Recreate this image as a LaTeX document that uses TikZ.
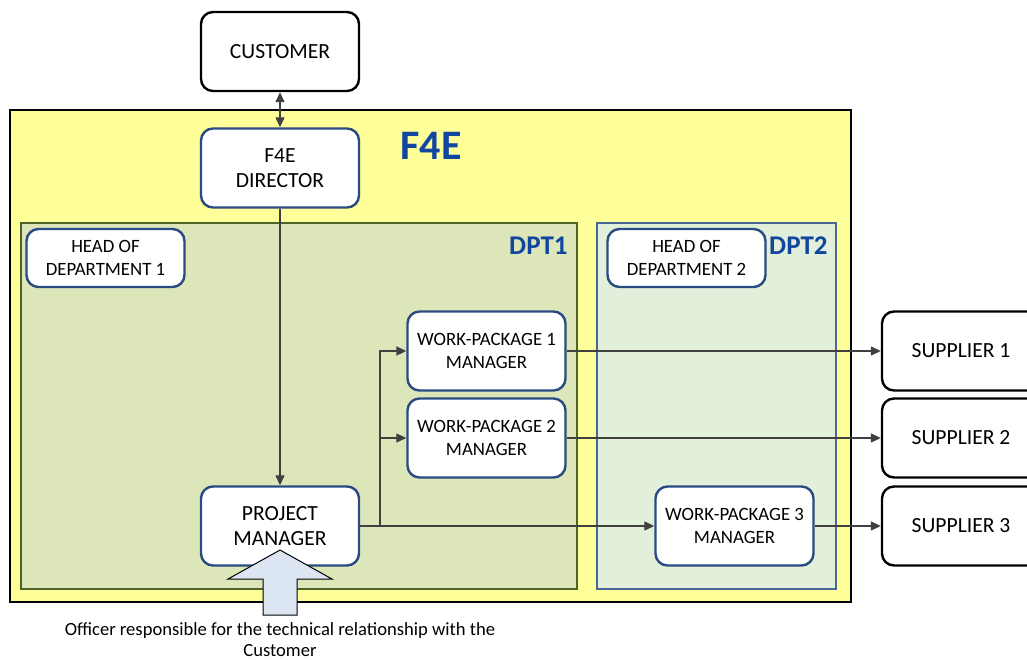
\documentclass[tikz,border=0pt]{standalone}
\usepackage{fontspec}
\setmainfont{Carlito}
\usetikzlibrary{arrows.meta}

\definecolor{fyellow}{RGB}{255,255,153}
\definecolor{dgreen}{RGB}{221,230,185}
\definecolor{dmint}{RGB}{226,239,218}
\definecolor{bblue}{RGB}{41,75,130}
\definecolor{tblue}{RGB}{16,70,160}
\definecolor{olive}{RGB}{79,98,40}
\definecolor{pale}{RGB}{220,230,242}

\tikzset{
  ext/.style = {draw, rounded corners=6pt, line width=1.2pt, fill=white, align=center,
                minimum width=79pt, minimum height=39.5pt, font=\fontsize{10.8}{12.5}\selectfont},
  int/.style = {ext, draw=bblue},
  small/.style = {font=\fontsize{9.4}{11.3}\selectfont},
  link/.style = {-{Triangle[length=5pt,width=4.5pt]}, draw=black!75, line width=0.65pt},
  tag/.style = {text=tblue, inner sep=0pt, font=\bfseries\fontsize{13.5}{14}\selectfont}
}

\begin{document}
\begin{tikzpicture}[x=0.5pt, y=-0.5pt]
\useasboundingbox (0,0) rectangle (1027,659);

% boxes of the organisation
\draw[fill=fyellow, line width=0.75pt] (10,110) rectangle (851,602);
\draw[fill=dgreen, draw=olive, line width=1pt] (21,223) rectangle (577,589);
\draw[fill=dmint, draw=bblue!85, line width=1pt] (597,223) rectangle (836,589);
\node[text=tblue, font=\bfseries\fontsize{21}{22}\selectfont] (f4e) at (431,146) {F4E};
\node[tag, anchor=east] (t1) at (568,246) {DPT1};
\node[tag, anchor=east] (t2) at (828,246) {DPT2};

\draw (280,51.5) node[ext](cust){CUSTOMER}
    (280,168) node[int](dir){F4E\\DIRECTOR}
    (105.5,258) node[int, small, minimum height=29pt](h1){HEAD OF\\DEPARTMENT 1}
    (686.5,258) node[int, small, minimum height=29pt](h2){HEAD OF\\DEPARTMENT 2}
    (486.5,351) node[int, small](wp1){WORK-PACKAGE 1\\MANAGER}
    (486.5,438) node[int, small](wp2){WORK-PACKAGE 2\\MANAGER}
    (734.5,526) node[int, small](wp3){WORK-PACKAGE 3\\MANAGER}
    (280,526) node[int](pm){PROJECT\\MANAGER}
    (961,351) node[ext](s1){SUPPLIER 1}
    (961,438) node[ext](s2){SUPPLIER 2}
    (961,526) node[ext](s3){SUPPLIER 3};

\coordinate (j) at (380,526);
\draw[link, {Triangle[length=5pt,width=4.5pt]}-{Triangle[length=5pt,width=4.5pt]}] (cust) -- (dir);
\draw[link] (dir) -- (pm);
\draw[link] (pm) -- (wp3);
\draw[link, line width=1pt] (pm.east) -- (j) |- (wp1);
\draw[link] (j) |- (wp2);
\draw[link] (wp1) -- (s1);
\draw[link] (wp2) -- (s2);
\draw[link] (wp3) -- (s3);

% officer arrow
\draw[fill=pale, line width=0.5pt] (280,550) -- (332,579) -- (297,579) -- (297,615)
    -- (263,615) -- (263,579) -- (228,579) -- cycle;
\node[align=center, inner sep=0pt, font=\fontsize{9.3}{10.5}\selectfont] (cap) at (280,640)
    {Officer responsible for the technical relationship with the\\Customer};
\end{tikzpicture}
\end{document}
